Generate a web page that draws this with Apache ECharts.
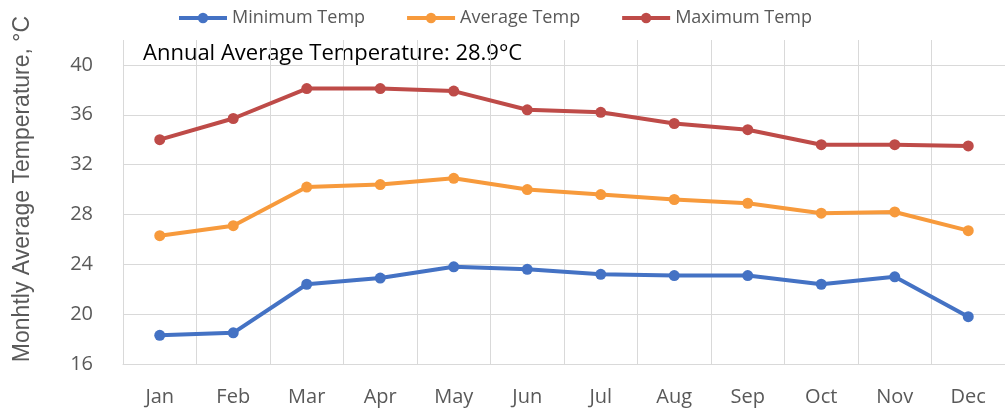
<!DOCTYPE html>
<html>
<head>
<meta charset="utf-8">
<script src="https://cdn.jsdelivr.net/npm/echarts@6/dist/echarts.min.js"></script>
<style>
  html, body { margin: 0; padding: 0; background: #fff; }
  #chart { width: 1005px; height: 411px; }
</style>
</head>
<body>
<div id="chart"></div>
<script>
// Monthly temperatures, °C
const months = ['Jan', 'Feb', 'Mar', 'Apr', 'May', 'Jun', 'Jul', 'Aug', 'Sep', 'Oct', 'Nov', 'Dec'];
const minTemp = [18.3, 18.5, 22.4, 22.9, 23.8, 23.6, 23.2, 23.1, 23.1, 22.4, 23.0, 19.8];
const avgTemp = [26.3, 27.1, 30.2, 30.4, 30.9, 30.0, 29.6, 29.2, 28.9, 28.1, 28.2, 26.7];
const maxTemp = [34.0, 35.7, 38.1, 38.1, 37.9, 36.4, 36.2, 35.3, 34.8, 33.6, 33.6, 33.5];
const yTicks = [16, 20, 24, 28, 32, 36, 40];
const annualNote = 'Annual Average Temperature: 28.9°C';
const yTitle = 'Monhtly Average Temperature, °C';

const FONT = 'Open Sans';
const GRID = '#d9d9d9';
const TEXT = '#595959';

function lineSeries(name, data, color) {
  return {
    name, type: 'line', data,
    symbol: 'circle', symbolSize: 11,
    lineStyle: { width: 4, color },
    itemStyle: { color },
    z: 3
  };
}

const chart = echarts.init(document.getElementById('chart'), null, { renderer: 'canvas' });
chart.setOption({
  animation: false,
  backgroundColor: '#fff',
  textStyle: { fontFamily: FONT },
  grid: { left: 123, right: -9, top: 40, bottom: 47 },
  legend: {
    top: 9, left: 177, padding: 0,
    itemWidth: 48, itemHeight: 13, itemGap: 40,
    lineStyle: { width: 4 },
    textStyle: { fontFamily: FONT, fontSize: 18, color: TEXT },
    data: ['Minimum Temp', 'Average Temp', 'Maximum Temp']
  },
  graphic: [
    {
      type: 'text', left: 143, top: 43,
      style: { text: annualNote, font: '22px "Open Sans"', fill: '#000' }
    },
    {
      type: 'text', x: 23, y: 189, rotation: Math.PI / 2,
      style: {
        text: yTitle, font: '23px "Liberation Sans"', fill: TEXT,
        align: 'center', verticalAlign: 'middle'
      }
    }
  ],
  xAxis: {
    type: 'category', data: months, boundaryGap: true,
    axisLine: { show: true, lineStyle: { color: GRID, width: 1 } },
    axisTick: { show: false },
    splitLine: { show: true, lineStyle: { color: GRID, width: 1 } },
    axisLabel: { fontFamily: FONT, fontSize: 20, color: TEXT, margin: 23 }
  },
  yAxis: {
    type: 'value', min: 16, max: 42, interval: 4,
    axisLine: { show: false },
    axisTick: { show: false },
    splitLine: {
      show: true,
      lineStyle: { width: 1, color: yTicks.map(() => GRID).concat(['rgba(0,0,0,0)']) }
    },
    axisLabel: {
      fontFamily: FONT, fontSize: 20, color: TEXT, margin: 30,
      formatter: v => (yTicks.includes(v) ? String(v) : '')
    }
  },
  series: [
    lineSeries('Minimum Temp', minTemp, '#4472C4'),
    lineSeries('Average Temp', avgTemp, '#F79A3C'),
    lineSeries('Maximum Temp', maxTemp, '#BE4B48')
  ]
});
</script>
</body>
</html>
